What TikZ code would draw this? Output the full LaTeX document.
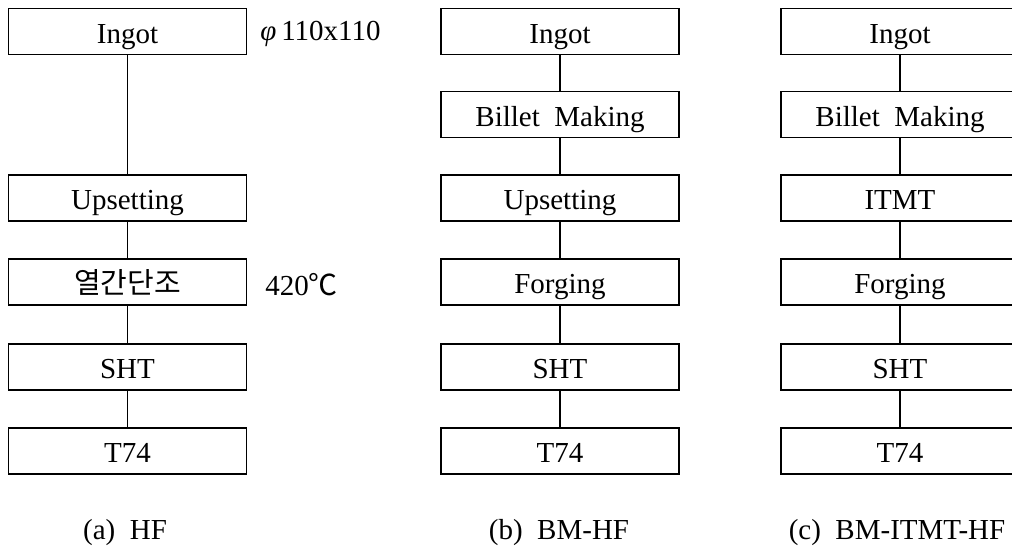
\documentclass[tikz,border=0pt]{standalone}
\usepackage{fontspec}
\setmainfont{Liberation Serif}
\newfontfamily\krfont{Noto Sans CJK KR}
\begin{document}
\begin{tikzpicture}[x=0.5pt,y=-0.5pt,
  stepbox/.style={draw, line width=0.7pt, minimum width=119pt, minimum height=23pt,
    inner sep=0pt, text height=12.5pt, text depth=1pt,
    font=\fontsize{14.5}{17}\selectfont},
  link/.style={line width=0.7pt},
  note/.style={font=\fontsize{14.5}{17}\selectfont, inner sep=0pt},
  caption/.style={font=\fontsize{14.5}{17}\selectfont, inner sep=0pt}]
\useasboundingbox (0,0) rectangle (1012,552);

% (a) HF
\node[stepbox] (a1) at (127.5,31.5) {Ingot};
\node[stepbox] (a2) at (127.5,198) {Upsetting};
\node[stepbox] (a3) at (127.5,282) {\krfont 열간단조};
\node[stepbox] (a4) at (127.5,367) {SHT};
\node[stepbox] (a5) at (127.5,451) {T74};
\draw[link] (a1) -- (a2);
\draw[link] (a2) -- (a3);
\draw[link] (a3) -- (a4);
\draw[link] (a4) -- (a5);
\node[note, anchor=west] (dia) at (260,34) {\textit{φ}\,110x110};
\node[note, anchor=west] (temp) at (265,285) {420{\krfont ℃}};
\node[caption] (capa) at (125,533) {(a)\enspace HF};

% (b) BM-HF
\node[stepbox] (b1) at (560,31.5) {Ingot};
\node[stepbox] (b2) at (560,114.5) {Billet\enspace Making};
\node[stepbox] (b3) at (560,198) {Upsetting};
\node[stepbox] (b4) at (560,282) {Forging};
\node[stepbox] (b5) at (560,367) {SHT};
\node[stepbox] (b6) at (560,451) {T74};
\draw[link] (b1) -- (b2);
\draw[link] (b2) -- (b3);
\draw[link] (b3) -- (b4);
\draw[link] (b4) -- (b5);
\draw[link] (b5) -- (b6);
\node[caption] (capb) at (559,533) {(b)\enspace BM-HF};

% (c) BM-ITMT-HF
\node[stepbox] (c1) at (900,31.5) {Ingot};
\node[stepbox] (c2) at (900,114.5) {Billet\enspace Making};
\node[stepbox] (c3) at (900,198) {ITMT};
\node[stepbox] (c4) at (900,282) {Forging};
\node[stepbox] (c5) at (900,367) {SHT};
\node[stepbox] (c6) at (900,451) {T74};
\draw[link] (c1) -- (c2);
\draw[link] (c2) -- (c3);
\draw[link] (c3) -- (c4);
\draw[link] (c4) -- (c5);
\draw[link] (c5) -- (c6);
\node[caption] (capc) at (897,533) {(c)\enspace BM-ITMT-HF};
\end{tikzpicture}
\end{document}
